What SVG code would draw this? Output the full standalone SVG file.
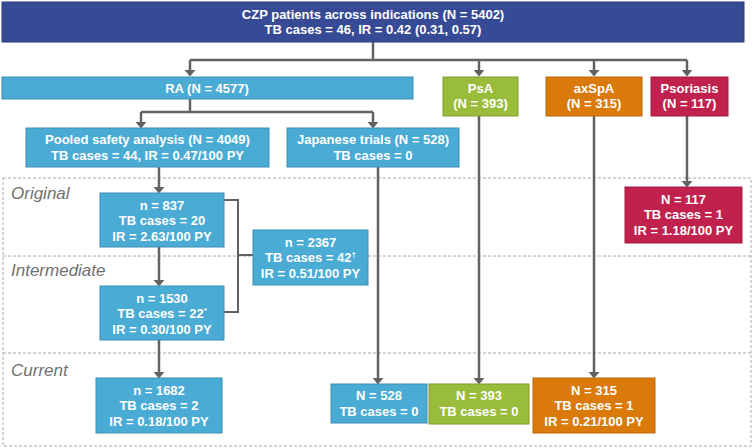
<svg xmlns="http://www.w3.org/2000/svg" width="753" height="448" viewBox="0 0 753 448">
<style>
.t{font-family:"Liberation Sans",Arial,sans-serif;font-weight:bold;font-size:13px;fill:#fff;text-anchor:middle}
.lab{font-family:"Liberation Sans",Arial,sans-serif;font-style:italic;font-size:17px;fill:#707070}
.db{fill:#374a95;stroke:#2d3d7d;stroke-width:1}
.lb{fill:#4aabd5;stroke:#3d8db3;stroke-width:1}
.gr{fill:#99bc3b;stroke:#7f9d30;stroke-width:1}
.or{fill:#d97a0b;stroke:#b86608;stroke-width:1}
.cr{fill:#c0224d;stroke:#a01c40;stroke-width:1}
.c{fill:none;stroke:#626262;stroke-width:2.5}
.a{marker-end:url(#ah)}
.dash{fill:none;stroke:#a8a8a8;stroke-width:1;stroke-dasharray:3,2}
</style>
<defs>
<marker id="ah" markerUnits="userSpaceOnUse" markerWidth="7" markerHeight="11" viewBox="0 0 6 10" refX="1" refY="5" orient="auto">
<path d="M0,0 L6,5 L0,10 z" fill="#626262"/>
</marker>
</defs>
<rect width="753" height="448" fill="#fff"/>
<g id="panel">
<rect x="3" y="178" width="748" height="268" fill="#f2f2f2" class="dash"/>
<line x1="3" y1="256" x2="751" y2="256" class="dash"/>
<line x1="3" y1="353" x2="751" y2="353" class="dash"/>
<text class="lab" x="11" y="199">Original</text>
<text class="lab" x="11" y="276">Intermediate</text>
<text class="lab" x="11" y="376">Current</text>
</g>
<g id="connectors">
<path class="c" d="M373,42 V60 M190,60 H687"/>
<path class="c a" d="M190,60 V71"/>
<path class="c a" d="M479,60 V71"/>
<path class="c a" d="M594,60 V71"/>
<path class="c a" d="M687,60 V71"/>
<path class="c" d="M190,99 V112 M141,112 H373"/>
<path class="c a" d="M141,112 V123"/>
<path class="c a" d="M373,112 V123"/>
<path class="c a" d="M159,167 V188"/>
<path class="c a" d="M159,247 V281"/>
<path class="c a" d="M159,340 V373"/>
<path class="c a" d="M378,167 V379"/>
<path class="c a" d="M479,116 V379"/>
<path class="c a" d="M594,116 V373"/>
<path class="c a" d="M687,116 V182"/>
<path class="c" stroke-width="2" style="stroke-width:2" d="M224,200 H238 V312 H224 M238,255 H253"/>
</g>
<g id="top">
<rect class="db" x="2" y="2" width="742" height="40"/>
<text class="t" x="373" y="19">CZP patients across indications (N = 5402)</text>
<text class="t" x="373" y="34">TB cases = 46, IR = 0.42 (0.31, 0.57)</text>
</g>
<g id="ra">
<rect class="lb" x="2" y="77" width="411" height="22"/>
<text class="t" x="207" y="92.5">RA (N = 4577)</text>
</g>
<g id="psa">
<rect class="gr" x="443" y="77" width="75" height="39"/>
<text class="t" x="480.5" y="92.5">PsA</text>
<text class="t" x="480.5" y="107.5">(N = 393)</text>
</g>
<g id="axspa">
<rect class="or" x="546" y="77" width="96" height="39"/>
<text class="t" x="594" y="92.5">axSpA</text>
<text class="t" x="594" y="107.5">(N = 315)</text>
</g>
<g id="psoriasis">
<rect class="cr" x="651" y="77" width="77" height="39"/>
<text class="t" x="689.5" y="92.5">Psoriasis</text>
<text class="t" x="689.5" y="107.5">(N = 117)</text>
</g>
<g id="pooled">
<rect class="lb" x="26" y="128" width="243" height="39"/>
<text class="t" x="147.5" y="144">Pooled safety analysis (N = 4049)</text>
<text class="t" x="147.5" y="159.5">TB cases = 44, IR = 0.47/100 PY</text>
</g>
<g id="japanese">
<rect class="lb" x="287" y="128" width="172" height="39"/>
<text class="t" x="373" y="144">Japanese trials (N = 528)</text>
<text class="t" x="373" y="159.5">TB cases = 0</text>
</g>
<g id="n837">
<rect class="lb" x="100" y="193" width="124" height="54"/>
<text class="t" x="162" y="209.5">n = 837</text>
<text class="t" x="162" y="225">TB cases = 20</text>
<text class="t" x="162" y="240.5">IR = 2.63/100 PY</text>
</g>
<g id="n1530">
<rect class="lb" x="100" y="286" width="124" height="54"/>
<text class="t" x="162" y="302.5">n = 1530</text>
<text class="t" x="162" y="318">TB cases = 22<tspan font-size="8" dy="-5">*</tspan></text>
<text class="t" x="162" y="333.5">IR = 0.30/100 PY</text>
</g>
<g id="n2367">
<rect class="lb" x="253" y="230" width="115" height="55"/>
<text class="t" x="310.5" y="246.5">n = 2367</text>
<text class="t" x="310.5" y="262">TB cases = 42<tspan font-size="8" dy="-5">†</tspan></text>
<text class="t" x="310.5" y="277.5">IR = 0.51/100 PY</text>
</g>
<g id="n1682">
<rect class="lb" x="96" y="378" width="126" height="55"/>
<text class="t" x="159" y="394.5">n = 1682</text>
<text class="t" x="159" y="410">TB cases = 2</text>
<text class="t" x="159" y="425.5">IR = 0.18/100 PY</text>
</g>
<g id="n528">
<rect class="lb" x="331" y="384" width="96" height="39"/>
<text class="t" x="379" y="400">N = 528</text>
<text class="t" x="379" y="415.5">TB cases = 0</text>
</g>
<g id="n393">
<rect class="gr" x="429" y="384" width="100" height="40"/>
<text class="t" x="479" y="400">N = 393</text>
<text class="t" x="479" y="415.5">TB cases = 0</text>
</g>
<g id="n315">
<rect class="or" x="533" y="378" width="122" height="55"/>
<text class="t" x="594" y="394.5">N = 315</text>
<text class="t" x="594" y="410">TB cases = 1</text>
<text class="t" x="594" y="425.5">IR = 0.21/100 PY</text>
</g>
<g id="n117">
<rect class="cr" x="625" y="187" width="117" height="56"/>
<text class="t" x="683.5" y="203.5">N = 117</text>
<text class="t" x="683.5" y="219">TB cases = 1</text>
<text class="t" x="683.5" y="234.5">IR = 1.18/100 PY</text>
</g>
</svg>
